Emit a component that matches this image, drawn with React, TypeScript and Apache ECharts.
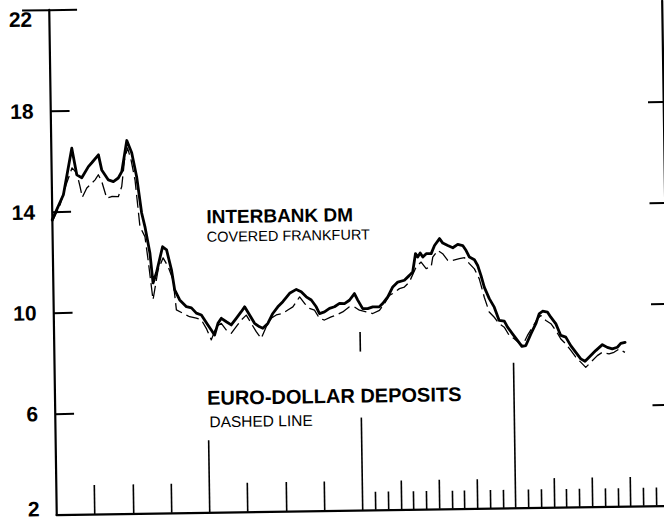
import React, { useEffect, useRef } from "react";
import * as echarts from "echarts";

// Axis ticks
const yTickValues = [2, 6, 10, 14, 18, 22];
const yInnerTicks = [6, 10, 14, 18];
const yTopTick = [22];
const monthTicksShort = [25, 26, 28, 29, 31, 32, 34, 35, 37, 38, 40, 41, 43, 44, 46, 47];
const quarterTicks = [3, 6, 9, 15, 18, 21, 27, 30, 33, 39, 42, 45];
const yearTickA = [12];
const yearTickB = [24];
const yearTickC = [36];

// [month from start, percent]
const interbankDM: [number, number][] = [
  [0, 13.68], [0.91, 14.67], [1.62, 16.51], [1.98, 15.45], [2.37, 15.33], [2.9, 15.77], [3.17, 15.92],
  [3.7, 16.23], [3.94, 15.63], [4.45, 15.23], [4.84, 15.16], [5.23, 15.3], [5.51, 15.55], [5.94, 16.78],
  [6.31, 16.29], [6.67, 15.34], [7.02, 13.9], [7.26, 13.36], [7.62, 12.31], [7.83, 11.12], [8.11, 11.52],
  [8.62, 12.55], [8.93, 12.42], [9.29, 11.63], [9.52, 10.83], [9.9, 10.43], [10.42, 10.16], [10.81, 10.11],
  [11.19, 9.9], [11.58, 9.82], [11.83, 9.62], [12.08, 9.42], [12.34, 9.22], [12.59, 9.02], [12.87, 9.48],
  [13.14, 9.68], [13.53, 9.54], [13.91, 9.41], [14.31, 9.67], [14.71, 9.93], [14.98, 10.12], [15.36, 9.79],
  [15.74, 9.46], [16.13, 9.32], [16.38, 9.26], [16.78, 9.45], [17.18, 9.84], [17.58, 10.1], [17.98, 10.3],
  [18.52, 10.63], [19.05, 10.78], [19.43, 10.68], [19.82, 10.48], [20.21, 10.35], [20.59, 10.08], [20.84, 9.81],
  [21.23, 9.87], [21.63, 10.01], [22.02, 10.07], [22.42, 10.2], [22.81, 10.19], [23.2, 10.32], [23.6, 10.58],
  [23.85, 10.32], [24.23, 9.98], [24.62, 9.98], [25.02, 10.04], [25.54, 10.04], [25.8, 10.17], [26.21, 10.43],
  [26.61, 10.82], [27.01, 11.01], [27.53, 11.08], [27.93, 11.27], [28.19, 11.4], [28.43, 12.13], [28.6, 11.99],
  [28.8, 12.15], [29.0, 11.99], [29.27, 12.12], [29.66, 12.12], [29.93, 12.44], [30.33, 12.71], [30.58, 12.53],
  [30.97, 12.43], [31.36, 12.34], [31.75, 12.47], [32.14, 12.42], [32.4, 12.22], [32.65, 11.96], [33.04, 11.85],
  [33.29, 11.62], [33.54, 11.22], [33.78, 10.76], [34.16, 10.3], [34.54, 9.96], [34.91, 9.43], [35.31, 9.4],
  [35.56, 9.16], [35.94, 8.89], [36.32, 8.63], [36.66, 8.39], [36.97, 8.42], [37.38, 8.88], [37.78, 9.28],
  [38.05, 9.67], [38.32, 9.77], [38.71, 9.73], [38.96, 9.53], [39.35, 9.26], [39.72, 8.8], [40.11, 8.73],
  [40.49, 8.39], [40.88, 8.12], [41.26, 7.86], [41.59, 7.76], [41.91, 7.92], [42.44, 8.18], [42.97, 8.41],
  [43.35, 8.3], [43.74, 8.24], [44.14, 8.3], [44.41, 8.45], [44.75, 8.49],
];

const euroDollar: [number, number][] = [
  [0, 13.6], [0.64, 14.27], [1.13, 15.06], [1.62, 15.73], [1.98, 15.52], [2.22, 14.99], [2.39, 14.56],
  [2.75, 14.92], [3.01, 15.05], [3.41, 15.24], [3.67, 15.44], [3.93, 15.17], [4.3, 14.51], [4.69, 14.57],
  [5.21, 14.56], [5.49, 14.96], [5.74, 16.01], [5.99, 16.49], [6.25, 16.01], [6.54, 15.21], [6.87, 13.36],
  [7.25, 12.96], [7.47, 12.04], [7.81, 10.45], [8.24, 11.63], [8.65, 12.11], [9.03, 11.76], [9.4, 11.23],
  [9.63, 10.04], [10.14, 9.9], [10.66, 9.76], [11.18, 9.7], [11.57, 9.63], [11.95, 9.29], [12.33, 8.83],
  [12.74, 9.35], [13.13, 9.48], [13.52, 9.21], [13.9, 9.08], [14.3, 9.34], [14.7, 9.6], [15.1, 9.79],
  [15.48, 9.46], [15.86, 9.13], [16.24, 8.86], [16.65, 9.32], [17.05, 9.65], [17.45, 9.78], [17.97, 9.84],
  [18.36, 9.97], [18.76, 10.09], [19.3, 10.48], [19.68, 10.22], [20.06, 10.02], [20.45, 9.95], [20.83, 9.62],
  [21.22, 9.55], [21.75, 9.67], [22.14, 9.74], [22.66, 9.86], [23.19, 10.06], [23.59, 10.05], [23.97, 9.92],
  [24.5, 9.85], [25.01, 9.78], [25.54, 9.9], [25.94, 10.17], [26.34, 10.49], [26.6, 10.56], [27.13, 10.75],
  [27.52, 10.81], [27.92, 11.01], [28.47, 11.6], [28.86, 11.79], [29.25, 11.53], [29.64, 11.59], [29.78, 11.98],
  [30.18, 12.24], [30.56, 12.11], [30.95, 11.84], [31.34, 11.84], [31.86, 11.9], [32.26, 11.94], [32.64, 11.7],
  [33.03, 11.49], [33.4, 11.09], [33.77, 10.36], [34.14, 9.77], [34.53, 9.56], [34.91, 9.3], [35.3, 9.16],
  [35.68, 8.83], [36.07, 8.7], [36.45, 8.52], [36.71, 8.42], [37.11, 8.82], [37.51, 9.14], [37.91, 9.47],
  [38.18, 9.6], [38.57, 9.4], [38.96, 9.27], [39.34, 9.0], [39.72, 8.66], [40.1, 8.46], [40.49, 8.2],
  [40.87, 7.93], [41.25, 7.73], [41.64, 7.52], [42.04, 7.72], [42.56, 7.98], [42.96, 8.11], [43.48, 8.04],
  [43.87, 8.1], [44.27, 8.23], [44.73, 8.09],
];

const FONT = '"Liberation Sans", Arial, sans-serif';

export default function App() {
  const ref = useRef<HTMLDivElement>(null);

  useEffect(() => {
    document.body.style.margin = "0";
    const chart = echarts.init(ref.current as HTMLDivElement, null, { renderer: "svg" });

    const tickStyle = { color: "#000", width: 1.6 };
    const xBase = {
      type: "value",
      min: 0,
      max: 48,
      position: "bottom",
      axisLabel: { show: false },
      splitLine: { show: false },
    };
    const xTickAxis = (values: number[], length: number, showLine = false) => ({
      ...xBase,
      axisLine: { show: showLine, onZero: false, lineStyle: { color: "#000", width: 2.2 } },
      axisTick: { show: true, inside: true, length, customValues: values, lineStyle: tickStyle },
    });

    const yBase = {
      type: "value",
      min: 2,
      max: 22,
      interval: 4,
      splitLine: { show: false },
    };
    const labelRich = (extra: object) => ({
      fontFamily: FONT,
      fontWeight: "bold",
      fontSize: 21,
      color: "#000",
      ...extra,
    });

    chart.setOption({
      animation: false,
      backgroundColor: "#fff",
      grid: { left: 52.8, right: 14.7, top: 5.8, bottom: 10.6, containLabel: false },
      xAxis: [
        xTickAxis(monthTicksShort, 18, true),
        xTickAxis(quarterTicks, 29),
        xTickAxis(yearTickA, 72),
        xTickAxis(yearTickB, 178),
        xTickAxis(yearTickC, 145),
      ],
      yAxis: [
        {
          ...yBase,
          position: "left",
          axisLine: { show: true, onZero: false, lineStyle: { color: "#000", width: 2.2 } },
          axisTick: { show: true, inside: true, length: 19, customValues: yInnerTicks, lineStyle: { color: "#000", width: 2 } },
          axisLabel: {
            show: true,
            customValues: yTickValues,
            margin: 17,
            fontFamily: FONT,
            fontWeight: "bold",
            fontSize: 21,
            color: "#000",
            formatter: (v: number) => (v === 22 ? `{t|${v}}` : v === 2 ? `{b|${v}}` : `{n|${v}}`),
            rich: {
              t: labelRich({ padding: [18, 0, 0, 0] }),
              b: labelRich({ padding: [0, 0, 12, 0] }),
              n: labelRich({}),
            },
          },
        },
        {
          ...yBase,
          position: "left",
          axisLine: { show: false },
          axisTick: { show: true, inside: true, length: 28, customValues: yTopTick, lineStyle: { color: "#000", width: 2 } },
          axisLabel: { show: false },
        },
        {
          ...yBase,
          position: "right",
          axisLine: { show: true, onZero: false, lineStyle: { color: "#000", width: 2.2 } },
          axisTick: { show: true, inside: true, length: 15, customValues: yInnerTicks, lineStyle: { color: "#000", width: 2 } },
          axisLabel: { show: false },
        },
        {
          ...yBase,
          position: "right",
          axisLine: { show: false },
          axisTick: { show: true, inside: true, length: 27, customValues: yTopTick, lineStyle: { color: "#000", width: 2 } },
          axisLabel: { show: false },
        },
      ],
      series: [
        {
          name: "EURO-DOLLAR DEPOSITS",
          type: "line",
          xAxisIndex: 0,
          yAxisIndex: 0,
          data: euroDollar,
          symbol: "none",
          showSymbol: false,
          z: 2,
          lineStyle: { color: "#000", width: 1.3, type: [13, 5], cap: "butt", join: "round" },
        },
        {
          name: "INTERBANK DM",
          type: "line",
          xAxisIndex: 0,
          yAxisIndex: 0,
          data: interbankDM,
          symbol: "none",
          showSymbol: false,
          z: 3,
          lineStyle: { color: "#000", width: 2.8, cap: "round", join: "round" },
        },
      ],
      graphic: [
        {
          type: "text",
          x: 207,
          y: 215,
          z: 50,
          style: { text: "INTERBANK DM", font: `bold 19px ${FONT}`, fill: "#000", verticalAlign: "middle" },
        },
        {
          type: "text",
          x: 207,
          y: 235,
          z: 50,
          style: { text: "COVERED FRANKFURT", font: `14.5px ${FONT}`, fill: "#000", verticalAlign: "middle" },
        },
        {
          type: "text",
          x: 205,
          y: 352,
          z: 50,
          style: {
            text: "EURO-DOLLAR DEPOSITS",
            font: `bold 20px ${FONT}`,
            fill: "#000",
            verticalAlign: "top",
            backgroundColor: "#fff",
            padding: [32, 0, 10, 0],
            lineHeight: 24,
          },
        },
        {
          type: "text",
          x: 207,
          y: 420,
          z: 51,
          style: { text: "DASHED LINE", font: `15.5px ${FONT}`, fill: "#000", verticalAlign: "middle" },
        },
      ],
    });

    return () => chart.dispose();
  }, []);

  return (
    <div
      style={{
        position: "absolute",
        left: 0,
        top: 0,
        width: 664,
        height: 521,
        overflow: "hidden",
        background: "#fff",
      }}
    >
      <div
        ref={ref}
        style={{
          width: 680,
          height: 521,
          transform: "rotate(-0.85deg)",
          transformOrigin: "332px 260.5px",
        }}
      />
    </div>
  );
}
